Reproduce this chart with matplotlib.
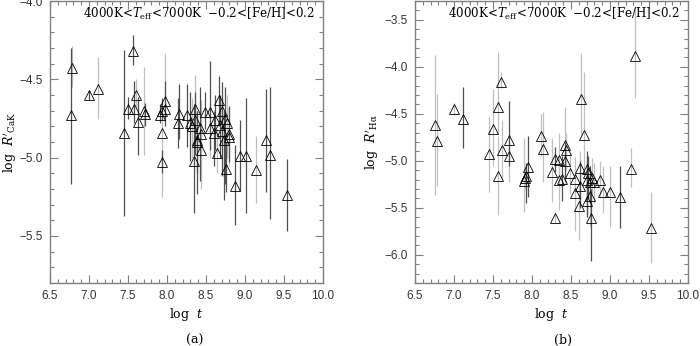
import numpy as np
import matplotlib
matplotlib.use("Agg")
import matplotlib.pyplot as plt
from matplotlib.ticker import MultipleLocator

plt.rcParams['font.family'] = ['DejaVu Serif']
plt.rcParams['mathtext.fontset'] = 'dejavuserif'

# panel (a): log t, log R'CaK, upper / lower end of error bar, bar group
logt_a = [6.78, 6.77, 7.00, 7.12, 7.45, 7.57, 7.50, 7.58, 7.60, 7.63,
          7.71, 7.72, 7.91, 7.93, 7.97, 7.93, 7.93, 7.97, 8.15, 8.14,
          8.25, 8.29, 8.32, 8.36, 8.36, 8.35, 8.38, 8.42, 8.44, 8.39,
          8.43, 8.49, 8.55, 8.55, 8.62, 8.60, 8.64, 8.67, 8.71, 8.68,
          8.74, 8.77, 8.71, 8.73, 8.79, 8.80, 8.76, 8.87, 8.93, 9.01,
          9.14, 9.27, 9.32, 9.54]
cak = [-4.43, -4.73, -4.60, -4.56, -4.84, -4.32, -4.69, -4.69, -4.60, -4.77,
       -4.70, -4.72, -4.73, -4.70, -4.64, -4.84, -5.03, -4.69, -4.72, -4.78,
       -4.73, -4.78, -4.80, -4.69, -4.76, -5.02, -4.89, -4.81, -4.85, -4.90,
       -4.95, -4.71, -4.71, -4.81, -4.76, -4.84, -4.97, -4.63, -4.70, -4.79,
       -4.75, -4.78, -4.83, -4.89, -4.87, -4.85, -5.07, -5.18, -4.99, -4.99,
       -5.08, -4.89, -4.98, -5.24]
cak_hi = [-4.285, -4.30, -4.57, -4.36, -4.31, -4.215, -4.61, -4.51, -4.50, -4.61,
          -4.42, -4.65, -4.66, -4.62, -4.33, -4.75, -4.95, -4.51, -4.53, -4.62,
          -4.53, -4.58, -4.62, -4.47, -4.58, -4.66, -4.70, -4.55, -4.63, -4.70,
          -4.75, -4.58, -4.38, -4.65, -4.60, -4.70, -4.82, -4.48, -4.52, -4.60,
          -4.55, -4.60, -4.62, -4.70, -4.68, -4.67, -4.90, -4.92, -4.76, -4.62,
          -4.86, -4.56, -4.55, -5.01]
cak_lo = [-4.55, -5.17, -4.63, -4.75, -5.37, -4.41, -4.75, -4.78, -4.68, -4.98,
          -4.98, -4.80, -4.78, -4.76, -4.72, -5.25, -5.10, -4.80, -4.88, -4.94,
          -4.93, -5.02, -5.00, -4.90, -4.98, -5.35, -5.10, -5.15, -5.20, -5.23,
          -5.17, -4.82, -4.95, -5.00, -4.95, -5.05, -5.10, -4.80, -4.92, -5.00,
          -5.17, -5.00, -5.12, -5.27, -5.05, -5.03, -5.22, -5.43, -5.21, -5.35,
          -5.29, -5.22, -5.39, -5.47]
grp_a = ['l', 'd', 'd', 'l', 'd', 'd', 'd', 'd', 'l', 'd',
         'l', 'd', 'd', 'd', 'l', 'l', 'd', 'd', 'd', 'd',
         'd', 'd', 'l', 'l', 'd', 'd', 'd', 'd', 'l', 'd',
         'l', 'd', 'd', 'l', 'd', 'd', 'l', 'd', 'd', 'd',
         'd', 'l', 'd', 'd', 'l', 'd', 'd', 'd', 'd', 'd',
         'l', 'd', 'd', 'd']

# panel (b): log t, log R'Halpha
logt_b = [6.76, 6.78, 7.00, 7.11, 7.45, 7.50, 7.57, 7.60, 7.56, 7.62,
          7.70, 7.70, 7.90, 7.92, 7.91, 7.95, 8.12, 8.14, 8.25, 8.29,
          8.30, 8.35, 8.35, 8.38, 8.42, 8.44, 8.42, 8.49, 8.55, 8.55,
          8.61, 8.60, 8.62, 8.63, 8.67, 8.70, 8.72, 8.70, 8.74, 8.77,
          8.79, 8.74, 8.70, 8.75, 8.87, 8.91, 9.00, 9.13, 9.27, 9.32,
          9.53]
ha = [-4.62, -4.79, -4.45, -4.55, -4.93, -4.66, -4.43, -4.16, -5.16, -4.88,
      -4.78, -4.95, -5.21, -5.16, -5.18, -5.07, -4.74, -4.87, -5.12, -5.61,
      -4.98, -4.99, -5.20, -5.19, -4.83, -4.88, -5.00, -5.13, -5.19, -5.34,
      -5.27, -5.48, -5.08, -4.34, -4.73, -5.09, -5.13, -5.20, -5.23, -5.18,
      -5.23, -5.37, -5.43, -5.61, -5.20, -5.33, -5.33, -5.38, -5.09, -3.89,
      -5.72]
ha_hi = [-3.87, -4.29, -4.38, -4.22, -4.52, -4.24, -3.84, -4.06, -4.74, -4.57,
         -4.36, -4.80, -4.76, -5.02, -5.05, -4.74, -4.50, -4.48, -4.76, -5.55,
         -4.85, -4.70, -5.00, -4.95, -4.43, -4.70, -4.80, -4.93, -4.96, -5.05,
         -5.00, -5.25, -4.90, -3.85, -4.06, -4.90, -4.95, -5.00, -5.05, -4.97,
         -5.02, -5.15, -5.20, -5.30, -5.00, -5.05, -5.05, -5.05, -4.86, -3.35,
         -5.33]
ha_lo = [-5.36, -5.27, -4.51, -4.86, -5.33, -5.06, -4.71, -4.23, -5.58, -5.18,
         -5.05, -5.23, -5.54, -5.45, -5.30, -5.39, -4.95, -5.23, -5.44, -5.66,
         -5.12, -5.25, -5.52, -5.43, -5.25, -5.10, -5.22, -5.35, -5.40, -5.75,
         -5.50, -5.84, -5.30, -4.73, -5.10, -5.30, -5.40, -5.55, -5.45, -5.35,
         -5.45, -5.70, -5.60, -6.07, -5.40, -5.55, -5.70, -5.72, -5.28, -4.33,
         -6.09]
grp_b = ['l', 'l', 'l', 'd', 'l', 'l', 'l', 'l', 'l', 'l',
         'd', 'l', 'l', 'd', 'l', 'd', 'l', 'l', 'l', 'l',
         'd', 'l', 'l', 'd', 'l', 'l', 'd', 'l', 'l', 'l',
         'd', 'l', 'l', 'l', 'l', 'd', 'd', 'd', 'd', 'l',
         'l', 'l', 'd', 'd', 'l', 'l', 'l', 'd', 'l', 'l',
         'l']

bar_colors = {'d': '#505050', 'l': '#c0c0c0'}
frame = '#808080'

fig = plt.figure(figsize=(7.0, 3.46), dpi=100)
ax1 = fig.add_axes([50/700, 63/346, 273/700, 282/346])
ax2 = fig.add_axes([415/700, 63/346, 273/700, 282/346])


def panel(ax, x, y, hi, lo, grp, ylim, ylabel, ylab_x):
    x = np.array(x)
    y = np.array(y)
    hi = np.array(hi)
    lo = np.array(lo)
    grp = np.array(grp)
    for g in ['l', 'd']:
        m = grp == g
        ax.vlines(x[m], lo[m], hi[m], color=bar_colors[g], lw=0.9, zorder=1)
    ax.plot(x, y, '^', ms=7, mfc='none', mec='black', mew=0.6, zorder=3)
    ax.set_xlim(6.5, 10.0)
    ax.set_ylim(*ylim)
    ax.xaxis.set_major_locator(MultipleLocator(0.5))
    ax.xaxis.set_minor_locator(MultipleLocator(0.1))
    ax.yaxis.set_major_locator(MultipleLocator(0.5))
    ax.yaxis.set_minor_locator(MultipleLocator(0.1))
    ax.tick_params(which='both', direction='in', top=True, right=True,
                   color=frame, labelsize=8.5, labelcolor='#333333', pad=5)
    ax.tick_params(which='major', length=6, width=0.8)
    ax.tick_params(which='minor', length=3, width=0.8)
    for lab in ax.get_xticklabels() + ax.get_yticklabels():
        lab.set_family('Liberation Sans')
    for s in ax.spines.values():
        s.set_color(frame)
        s.set_linewidth(1.0)
    ax.set_xlabel(r'log  $t$', fontsize=9, labelpad=3)
    ax.set_ylabel(ylabel, fontsize=9)
    ax.yaxis.set_label_coords(ylab_x, 0.5)
    ax.text(0.97, 0.955, r'4000K<$T_{\rm eff}$<7000K  $-$0.2<[Fe/H]<0.2',
            transform=ax.transAxes, ha='right', va='center', fontsize=8.6)


panel(ax1, logt_a, cak, cak_hi, cak_lo, grp_a, (-5.8, -4.0),
      r"log  $R'_{\rm CaK}$", -0.115)
panel(ax2, logt_b, ha, ha_hi, ha_lo, grp_b, (-6.3, -3.3),
      r"log  $R'_{\rm H\alpha}$", -0.125)

fig.text(195/700, 1 - 340/346, '(a)', ha='center', va='center', fontsize=9)
fig.text(563/700, 1 - 340/346, '(b)', ha='center', va='center', fontsize=9)

fig.savefig('out.png', dpi=100)
